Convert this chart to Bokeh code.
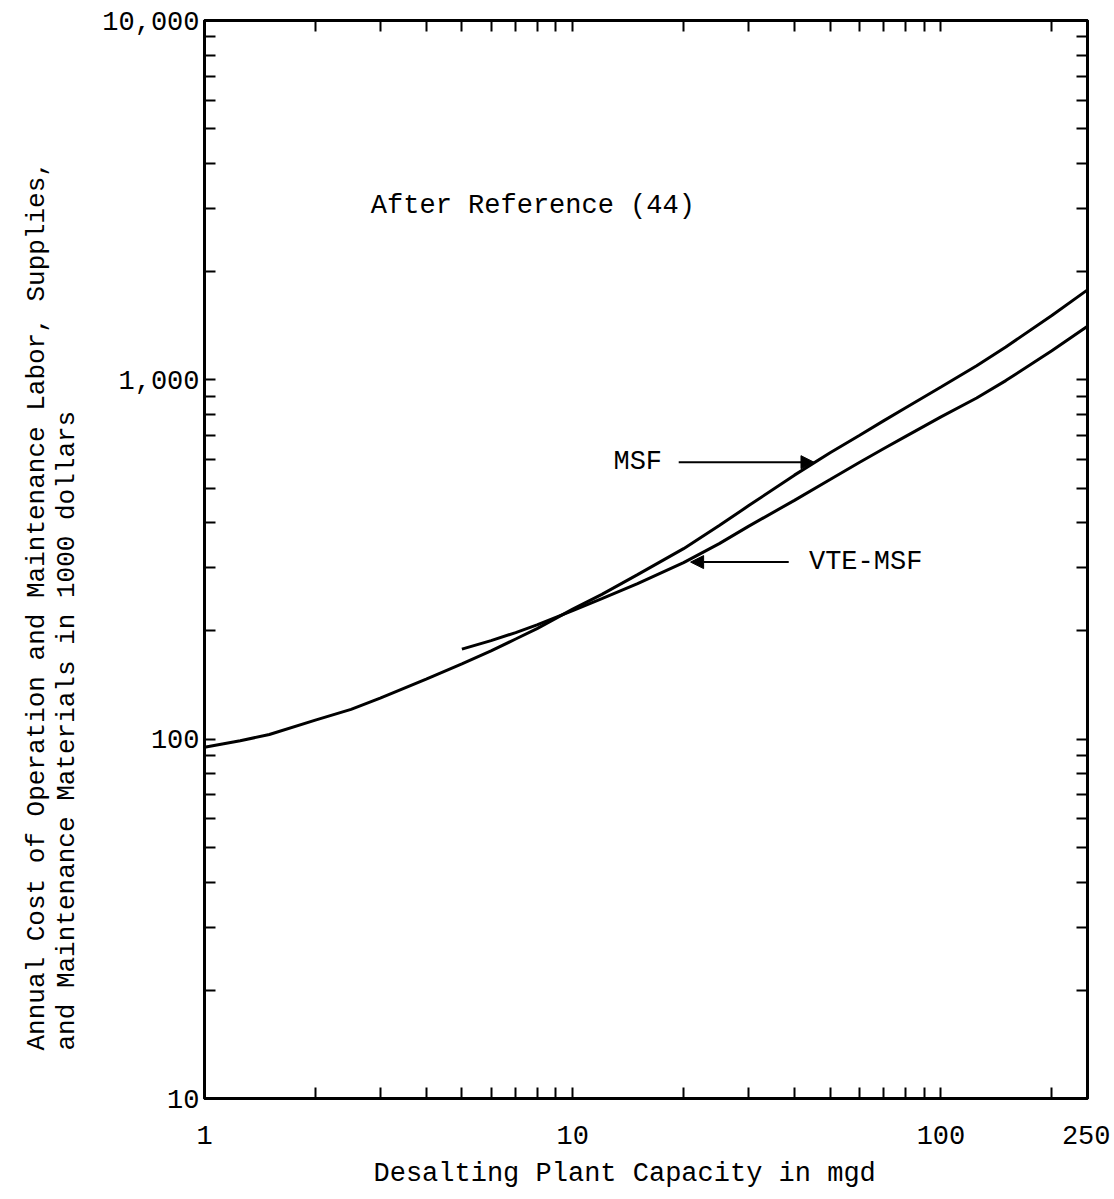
from bokeh.plotting import figure
from bokeh.models import (Range1d, FixedTicker, LogAxis, Label, Arrow, NormalHead, Title)
from bokeh.embed import file_html
from bokeh.resources import INLINE

# ---- data ----
msf_capacity = [1, 1.25, 1.5, 2, 2.5, 3, 4, 5, 6, 7, 8, 10, 12, 15, 20, 25, 30,
                40, 50, 60, 70, 80, 100, 125, 150, 200, 250]
msf_cost = [95, 99, 103, 113, 121, 130, 147, 162, 176, 190, 203, 230, 253, 287, 339, 393, 446,
            543, 627, 700, 770, 835, 955, 1095, 1235, 1510, 1780]

vte_capacity = [5, 6, 7, 8, 10, 12, 15, 20, 25, 30, 40, 50, 60, 70, 80, 100, 125, 150, 200, 250]
vte_cost = [178, 188, 198, 208, 228, 246, 271, 310, 350, 391, 462, 528, 589, 644, 695, 789,
            890, 995, 1205, 1410]

x_ticks = [1, 2, 3, 4, 5, 6, 7, 8, 9, 10, 20, 30, 40, 50, 60, 70, 80, 90, 100, 200, 250]
x_tick_labels = {1: "1", 10: "10", 100: "100", 250: "250"}
y_ticks = [10, 20, 30, 40, 50, 60, 70, 80, 90,
           100, 200, 300, 400, 500, 600, 700, 800, 900,
           1000, 2000, 3000, 4000, 5000, 6000, 7000, 8000, 9000, 10000]
y_tick_labels = {10: "10", 100: "100", 1000: "1,000", 10000: "10,000"}

x_title = "Desalting Plant Capacity in mgd"
y_title_lines = ["Annual Cost of Operation and Maintenance Labor, Supplies,",
                 "and Maintenance Materials in 1000 dollars"]
note_text = "After Reference (44)"

# annotation anchor positions (data units)
note_pos = (2.83, 3050)
msf_label_pos = (12.9, 590)
msf_arrow = (19.4, 590, 45.2, 590)
vte_label_pos = (43.8, 311)
vte_arrow = (38.6, 311, 20.9, 311)

FONT = "Liberation Mono"
FS = "27px"

p = figure(width=1110, height=1199, x_axis_type="log", y_axis_type="log",
           x_range=Range1d(1, 250), y_range=Range1d(10, 10000),
           output_backend="svg", toolbar_location=None,
           min_border_left=204, min_border_right=23, min_border_top=20,
           min_border_bottom=101)
p.background_fill_color = "white"
p.border_fill_color = "white"
p.grid.visible = False
p.outline_line_color = "black"
p.outline_line_width = 3


def style_axis(ax, ticks, labels, show_labels):
    ax.ticker = FixedTicker(ticks=ticks, minor_ticks=[])
    ax.axis_line_width = 3
    ax.axis_line_color = "black"
    ax.major_tick_in = 11
    ax.major_tick_out = 0
    ax.major_tick_line_width = 2
    ax.minor_tick_in = 0
    ax.minor_tick_out = 0
    ax.major_label_overrides = {t: (labels.get(t, "") if show_labels else "") for t in ticks}
    ax.major_label_text_font = FONT
    ax.major_label_text_font_size = FS if show_labels else "0px"
    ax.major_label_text_color = "black"


style_axis(p.xaxis[0], x_ticks, x_tick_labels, True)
p.xaxis[0].major_label_standoff = 27
style_axis(p.yaxis[0], y_ticks, y_tick_labels, True)
p.yaxis[0].major_label_standoff = 5

top_axis = LogAxis()
style_axis(top_axis, x_ticks, x_tick_labels, False)
top_axis.major_label_standoff = 0
p.add_layout(top_axis, "above")

right_axis = LogAxis()
style_axis(right_axis, y_ticks, y_tick_labels, False)
right_axis.major_label_standoff = 0
p.add_layout(right_axis, "right")

p.line(msf_capacity, msf_cost, line_color="black", line_width=3)
p.line(vte_capacity, vte_cost, line_color="black", line_width=3)

for (lx, ly), txt in [(note_pos, note_text), (msf_label_pos, "MSF"), (vte_label_pos, "VTE-MSF")]:
    p.add_layout(Label(x=lx, y=ly, text=txt, text_font=FONT, text_font_size=FS,
                       text_align="left", text_baseline="middle", text_color="black"))

for a in (msf_arrow, vte_arrow):
    p.add_layout(Arrow(x_start=a[0], y_start=a[1], x_end=a[2], y_end=a[3], line_width=2,
                       end=NormalHead(size=13, fill_color="black", line_color="black")))

# axis titles
xt = Title(text=x_title, align="left", offset=169, standoff=21,
           text_font=FONT, text_font_size=FS, text_font_style="normal", text_color="black")
p.add_layout(xt, "below")
yt = Title(text=y_title_lines[0] + "\n" + y_title_lines[1], align="left", offset=48, standoff=34,
           text_font=FONT, text_font_size="26px", text_font_style="normal", text_color="black",
           text_line_height=1.02)
p.add_layout(yt, "left")

open("out.html", "w").write(file_html(p, INLINE))
